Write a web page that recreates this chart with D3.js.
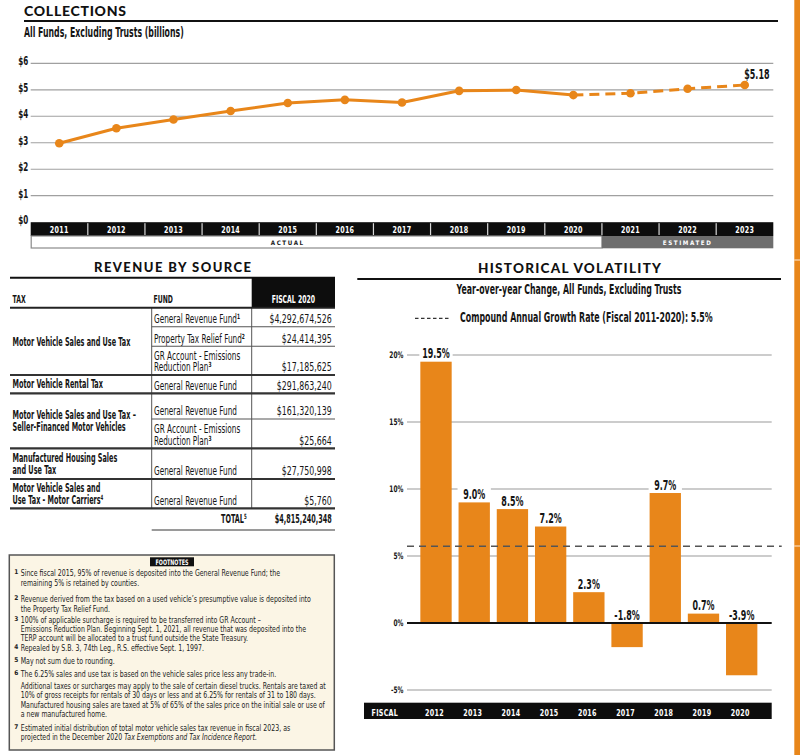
<!DOCTYPE html>
<html><head><meta charset="utf-8">
<script src="https://cdn.jsdelivr.net/npm/d3@7"></script>
<style>
html,body{margin:0;padding:0;background:#fff;}
svg{display:block;}
</style></head><body>
<svg id="c" width="800" height="755"></svg>
<script>
// ================= DATA =================
const years = ["2011","2012","2013","2014","2015","2016","2017","2018","2019","2020","2021","2022","2023"];
const collections = [2.98, 3.55, 3.88, 4.20, 4.50, 4.62, 4.52, 4.96, 4.99, 4.80, 4.87, 5.04, 5.18];
const lastActualYear = "2020";
const collectionTicks = [0, 1, 2, 3, 4, 5, 6];
const collectionTickLabels = ["$0", "$1", "$2", "$3", "$4", "$5", "$6"];
const periodLabels = ["ACTUAL", "ESTIMATED"];

const volYears = ["2012","2013","2014","2015","2016","2017","2018","2019","2020"];
const volChange = [19.5, 9.0, 8.5, 7.2, 2.3, -1.8, 9.7, 0.7, -3.9];
const volTicks = [-5, 0, 5, 10, 15, 20];
const volTickLabels = ["-5%", "0%", "5%", "10%", "15%", "20%"];
const cagr = 5.5;

const taxNames = [
  ["Motor Vehicle Sales and Use Tax"],
  ["Motor Vehicle Rental Tax"],
  ["Motor Vehicle Sales and Use Tax \u2013", "Seller-Financed Motor Vehicles"],
  ["Manufactured Housing Sales", "and Use Tax"],
  ["Motor Vehicle Sales and", "Use Tax - Motor Carriers^4"]
];
const fundNames = [
  ["General Revenue Fund^1", "Property Tax Relief Fund^2", "GR Account - Emissions|Reduction Plan^3"],
  ["General Revenue Fund"],
  ["General Revenue Fund", "GR Account - Emissions|Reduction Plan^3"],
  ["General Revenue Fund"],
  ["General Revenue Fund"]
];
const fiscal2020 = [
  [4292674526, 24414395, 17185625],
  [291863240],
  [161320139, 25664],
  [27750998],
  [5760]
];
const fiscal2020Total = 4815240348;

const footnoteNums = ["1","2","3","4","5","6","7"];
const footnoteLines = [
  ["Since fiscal 2015, 95% of revenue is deposited into the General Revenue Fund; the",
   "remaining 5% is retained by counties."],
  ["Revenue derived from the tax based on a used vehicle\u2019s presumptive value is deposited into",
   "the Property Tax Relief Fund."],
  ["100% of applicable surcharge is required to be transferred into GR Account \u2013",
   "Emissions Reduction Plan. Beginning Sept. 1, 2021, all revenue that was deposited into the",
   "TERP account will be allocated to a trust fund outside the State Treasury."],
  ["Repealed by S.B. 3, 74th Leg., R.S. effective Sept. 1, 1997."],
  ["May not sum due to rounding."],
  ["The 6.25% sales and use tax is based on the vehicle sales price less any trade-in.",
   "Additional taxes or surcharges may apply to the sale of certain diesel trucks. Rentals are taxed at",
   "10% of gross receipts for rentals of 30 days or less and at 6.25% for rentals of 31 to 180 days.",
   "Manufactured housing sales are taxed at 5% of 65% of the sales price on the initial sale or use of",
   "a new manufactured home."],
  ["Estimated initial distribution of total motor vehicle sales tax revenue in fiscal 2023, as",
   "projected in the December 2020 _Tax Exemptions and Tax Incidence Report_."]
];

// ================= STYLE / LAYOUT =================
const ORANGE = "#E8861A";
const COND = '"Liberation Sans Narrow","Arial Narrow","DejaVu Sans Condensed","Roboto Condensed","Noto Sans",sans-serif';
const WIDE = 'Lato,"Open Sans","DejaVu Sans",sans-serif';
const svg = d3.select("#c");
const pct = v => d3.format(".1f")(v).replace("\u2212", "-") + "%";

function calib(sample, size, weight, target, font) {
  const t = svg.append("text").style("font-family", font || COND).style("font-size", size + "px")
    .style("font-weight", weight).text(sample);
  const w = t.node().getComputedTextLength();
  t.remove();
  return w > 0 ? target / w : 1;
}

// text helper: ^d -> superscript, _x_ -> italic
function T(parent, x, y, content, o) {
  const g = parent.append("g").attr("transform", `translate(${x},${y}) scale(${o.k || 1},1)`);
  const t = g.append("text").attr("text-anchor", o.anchor || "start")
    .style("font-family", o.font || COND).style("font-size", o.size + "px")
    .style("font-weight", o.weight || 700).attr("fill", o.fill || "#151515");
  if (o.ls) t.style("letter-spacing", o.ls + "px");
  let pend = 0;
  const parts = String(content).split(/(\^\d|_[^_]+_)/);
  parts.forEach(p => {
    if (!p) return;
    if (p[0] === "^") {
      const s = o.size * 0.33;
      t.append("tspan").attr("dy", -s + pend).style("font-size", (o.size * 0.6) + "px")
        .style("font-weight", 700).text(p.slice(1));
      pend = s;
    } else if (p[0] === "_") {
      const ts = t.append("tspan").style("font-style", "italic").text(p.slice(1, -1));
      if (pend) { ts.attr("dy", pend); pend = 0; }
    } else {
      const ts = t.append("tspan").text(p);
      if (pend) { ts.attr("dy", pend); pend = 0; }
    }
  });
  return t;
}

function title(x, y, str, size, len, anchor) {
  svg.append("text").attr("x", x).attr("y", y).attr("text-anchor", anchor || "start")
    .attr("textLength", len).attr("lengthAdjust", "spacing")
    .style("font-family", WIDE).style("font-weight", 900).style("font-size", size + "px")
    .attr("fill", "#111").text(str);
}
function hline(x1, x2, y, stroke, w, dash) {
  const l = svg.append("line").attr("x1", x1).attr("x2", x2).attr("y1", y).attr("y2", y)
    .attr("stroke", stroke).attr("stroke-width", w);
  if (dash) l.attr("stroke-dasharray", dash);
  return l;
}

// font sizes
const S = { sub: 13.5, tick: 11.5, year: 9.5, val: 14.5, tbl: 11.8, hdr: 10.5, foot: 9.2, bar: 13.5, vtick: 9, fn: 7.5 };
// calibrations (horizontal condensing to match reference widths)
const kSub = calib("All Funds, Excluding Trusts (billions)", S.sub, 700, 160);
const kTick = calib("$6", S.tick, 700, 10);
const kYear = calib("2011", S.year, 700, 17.7);
const kVal = calib("$5.18", S.val, 700, 25.3);
const kTblB = calib("Motor Vehicle Sales and Use Tax", S.tbl, 700, 118);
const kTblR = calib("General Revenue Fund", S.tbl, 400, 83);
const kTblV = calib("$4,292,674,526", S.tbl, 400, 62.4);
const kHdr = calib("FISCAL 2020", S.hdr, 700, 43.3);
const kFoot = calib(footnoteLines[5][1], S.foot, 400, 305);
const kVolSub = calib("Year-over-year Change, All Funds, Excluding Trusts", S.sub, 700, 225);
const kLeg = calib("Compound Annual Growth Rate (Fiscal 2011-2020): 5.5%", S.sub, 700, 253);
const kBarLbl = calib("19.5%", S.bar, 700, 27.7);
const kVolTick = calib("20%", S.vtick, 700, 14);
const kFn = calib("FOOTNOTES", S.fn, 700, 33);

// orange side strip
svg.append("rect").attr("x", 794.3).attr("y", 0).attr("width", 5.7).attr("height", 755).attr("fill", ORANGE);
[260, 546].forEach(y => svg.append("rect").attr("x", 794.3).attr("y", y - 0.5).attr("width", 5.7)
  .attr("height", 1).attr("fill", "#fff").attr("opacity", 0.85));

// ================= COLLECTIONS =================
title(24, 16, "COLLECTIONS", 14, 102);
hline(24, 778, 21, "#111", 2);
T(svg, 24, 36.5, "All Funds, Excluding Trusts (billions)", { size: S.sub, k: kSub });

const xL = d3.scaleBand().domain(years).range([30.7, 773.3]);
const yL = d3.scaleLinear().domain([0, 6]).range([222.2, 63.3]);
const cx = d => xL(d) + xL.bandwidth() / 2;

collectionTicks.forEach((t, i) => {
  if (t > 0) hline(30.7, 773.3, yL(t), "#a0a0a0", 1.2);
  T(svg, 18.3, yL(t) + 1.8, collectionTickLabels[i], { size: S.tick, k: kTick });
});

// year band
const band1 = [222.2, 236];
svg.append("rect").attr("x", 30.7).attr("y", band1[0]).attr("width", 742.6).attr("height", band1[1] - band1[0]).attr("fill", "#0d0d0d");
years.forEach((yr, i) => {
  if (i > 0) svg.append("rect").attr("x", xL(yr) - 0.6).attr("y", band1[0] + 1).attr("width", 1.2)
    .attr("height", band1[1] - band1[0] - 2).attr("fill", "#d8d8d8");
  T(svg, cx(yr), 232.6, yr, { size: S.year, k: kYear, fill: "#fff", anchor: "middle", ls: 0.4 });
});
// actual / estimated band
const split = xL("2021");
svg.append("rect").attr("x", 31.2).attr("y", 236).attr("width", split - 31.2).attr("height", 12)
  .attr("fill", "#fff").attr("stroke", "#8a8a8a").attr("stroke-width", 1.2);
svg.append("rect").attr("x", split).attr("y", 236).attr("width", 773.3 - split).attr("height", 12.3).attr("fill", "#6e6e6e");
T(svg, cx("2015"), 245.3, periodLabels[0], { size: 6.2, fill: "#222", anchor: "middle", ls: 1.6 });
T(svg, (split + 773.3) / 2, 245.3, periodLabels[1], { size: 6.2, fill: "#fff", anchor: "middle", ls: 1.6 });

// line
const pts = years.map((y, i) => ({ year: y, v: collections[i] }));
const iSplit = years.indexOf(lastActualYear);
const line = d3.line().x(d => cx(d.year)).y(d => yL(d.v));
svg.append("path").datum(pts.slice(0, iSplit + 1)).attr("d", line).attr("fill", "none")
  .attr("stroke", ORANGE).attr("stroke-width", 3).attr("stroke-linejoin", "round");
svg.append("path").datum(pts.slice(iSplit)).attr("d", line).attr("fill", "none")
  .attr("stroke", ORANGE).attr("stroke-width", 3).attr("stroke-dasharray", "10,6");
svg.selectAll("circle.pt").data(pts).enter().append("circle").attr("class", "pt")
  .attr("cx", d => cx(d.year)).attr("cy", d => yL(d.v)).attr("r", 4.3).attr("fill", ORANGE);
const last = pts[pts.length - 1];
T(svg, cx(last.year) - 0.5, yL(last.v) - 6.3, d3.format("$.2f")(last.v), { size: S.val, k: kVal });

// ================= REVENUE BY SOURCE =================
title(172.5, 272, "REVENUE BY SOURCE", 13, 157, "middle");
const tL = 10, tR = 335, c1 = 151.7, c2 = 251.7, vX = 331.7;
hline(tL, tR, 277.7, "#111", 2);
svg.append("rect").attr("x", c2).attr("y", 277.7).attr("width", tR - c2).attr("height", 30).attr("fill", "#0d0d0d");
T(svg, 12.5, 302.5, "TAX", { size: S.hdr, k: kHdr });
T(svg, 153.5, 302.5, "FUND", { size: S.hdr, k: kHdr });
T(svg, (c2 + tR) / 2, 302.5, "FISCAL 2020", { size: S.hdr, k: kHdr, fill: "#fff", anchor: "middle" });

const groupBounds = [[307.7, 326.7, 346.3, 375], [375, 393.3], [393.3, 419, 448.3], [448.3, 479], [479, 508.3]];
const LH = 11.3;
svg.append("line").attr("x1", c1).attr("x2", c1).attr("y1", 307.7).attr("y2", 508.3).attr("stroke", "#555").attr("stroke-width", 1);
svg.append("line").attr("x1", c2).attr("x2", c2).attr("y1", 307.7).attr("y2", 508.3).attr("stroke", "#555").attr("stroke-width", 1);
const money = d3.format("$,");
taxNames.forEach((lines, gi) => {
  const b = groupBounds[gi];
  const mid = (b[0] + b[b.length - 1]) / 2;
  lines.forEach((ln, li) => {
    T(svg, 12.5, mid - (lines.length - 1) * LH / 2 + li * LH + 4.2, ln, { size: S.tbl, k: kTblB });
  });
  fundNames[gi].forEach((fn, j) => {
    const top = b[j], bot = b[j + 1];
    if (j > 0) hline(c1, tR, top, "#555", 1.1);
    const fl = fn.split("|");
    fl.forEach((ln, li) => {
      T(svg, 154, bot - 3.8 - (fl.length - 1 - li) * LH, ln, { size: S.tbl, weight: 400, k: kTblR });
    });
    T(svg, vX, bot - 3.8, money(fiscal2020[gi][j]), { size: S.tbl, weight: 400, k: kTblV, anchor: "end" });
  });
});
hline(tL, tR, 307.7, "#222", 2);
groupBounds.forEach(b => hline(tL, tR, b[b.length - 1], "#333", 2.2));
T(svg, 246.7, 523, "TOTAL^5", { size: S.tbl, k: kTblB, anchor: "end" });
T(svg, vX, 523, money(fiscal2020Total), { size: S.tbl, k: kTblB, anchor: "end" });
hline(c1, tR, 530, "#9a9a9a", 2);

// footnotes box
svg.append("rect").attr("x", 9.3).attr("y", 555).attr("width", 325).attr("height", 195)
  .attr("fill", "#FBF5E5").attr("stroke", "#555").attr("stroke-width", 1.5);
svg.append("rect").attr("x", 150).attr("y", 557.3).attr("width", 44).attr("height", 9).attr("fill", "#111");
T(svg, 172, 564.7, "FOOTNOTES", { size: S.fn, k: kFn, fill: "#fff", anchor: "middle" });
const footBaselines = [[575.9, 585.5], [602.2, 612.2], [623, 631.5, 640.9], [650.5], [664.2], [677.2, 688.5, 698.2, 707.5, 716.5], [730.9, 739.9]];
footnoteLines.forEach((lines, i) => {
  T(svg, 14.3, footBaselines[i][0] - 1.8, footnoteNums[i], { size: 6.5, fill: "#222" });
  lines.forEach((ln, j) => T(svg, 20.7, footBaselines[i][j], ln, { size: S.foot, weight: 400, k: kFoot, fill: "#222" }));
});

// ================= HISTORICAL VOLATILITY =================
title(569.5, 272.7, "HISTORICAL VOLATILITY", 13.5, 183, "middle");
hline(357.3, 781, 279, "#111", 2);
T(svg, 569, 293.5, "Year-over-year Change, All Funds, Excluding Trusts", { size: S.sub, k: kVolSub, anchor: "middle" });
hline(415, 451, 318.3, "#333", 1.2, "3.5,2.5");
T(svg, 460, 322.3, "Compound Annual Growth Rate (Fiscal 2011-2020): " + cagr + "%", { size: S.sub, k: kLeg });

const xB = d3.scaleBand().domain(volYears).range([416.9, 760.8]).paddingInner(0.18).paddingOuter(0.09);
const yB = d3.scaleLinear().domain([-5, 20]).range([690, 355]);
const gx1 = 407, gx2 = 771.7;
volTicks.forEach((t, i) => {
  if (t !== 0) hline(gx1, gx2, yB(t), "#9a9a9a", 1.1);
  T(svg, 403.3, yB(t) + 2.5, volTickLabels[i], { size: S.vtick, k: kVolTick, anchor: "end" });
});
// label backgrounds hide gridlines
const bw = xB.bandwidth();
const lblY = (d) => (d >= 0 ? yB(d) : yB(0)) - 3.5;
volYears.forEach((yr, i) => {
  svg.append("rect").attr("x", xB(yr) - 1).attr("y", lblY(volChange[i]) - 12).attr("width", bw + 2)
    .attr("height", 14).attr("fill", "#fff");
});
svg.selectAll("rect.bar").data(volYears).enter().append("rect").attr("class", "bar")
  .attr("x", d => xB(d)).attr("width", bw)
  .attr("y", (d, i) => Math.min(yB(volChange[i]), yB(0)))
  .attr("height", (d, i) => Math.abs(yB(volChange[i]) - yB(0)))
  .attr("fill", ORANGE);
hline(gx1, gx2, yB(0), "#111", 1.8);
hline(gx1, 781.7, yB(cagr) - 3, "#555", 1.6, "7,5");
volYears.forEach((yr, i) => {
  T(svg, xB(yr) + bw / 2, lblY(volChange[i]), pct(volChange[i]), { size: S.bar, k: kBarLbl, anchor: "middle" });
});
// fiscal axis band
svg.append("rect").attr("x", 364).attr("y", 702.7).attr("width", gx2 - 364).attr("height", 16.3).attr("fill", "#0d0d0d");
T(svg, 371.5, 715.5, "FISCAL", { size: S.year, k: kYear, fill: "#fff", ls: 0.4 });
volYears.forEach(yr => T(svg, xB(yr) + bw / 2 - 1.5, 715.5, yr, { size: S.year, k: kYear, fill: "#fff", anchor: "middle", ls: 0.4 }));
</script>
</body></html>
